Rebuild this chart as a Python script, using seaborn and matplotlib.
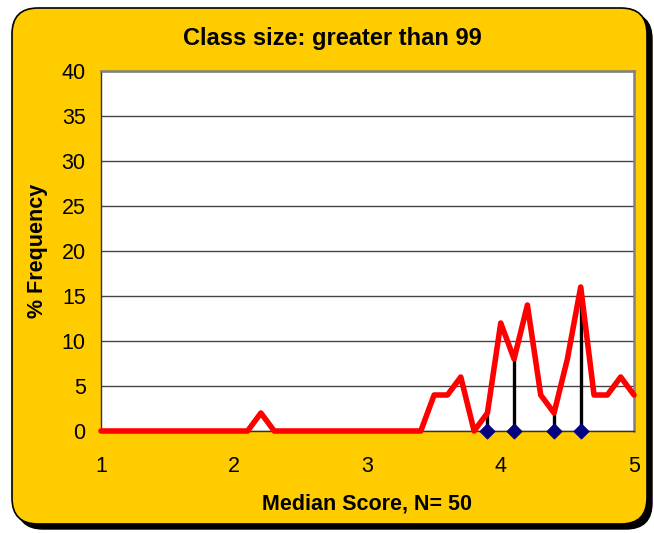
import matplotlib.pyplot as plt
import seaborn as sns
import pandas as pd
from matplotlib.patches import FancyBboxPatch
from matplotlib.transforms import IdentityTransform
from matplotlib.ticker import MultipleLocator

# median score bins (x) and % frequency
scores = [1.0, 1.1, 1.2, 1.3, 1.4, 1.5, 1.6, 1.7, 1.8, 1.9,
          2.0, 2.1, 2.2, 2.3, 2.4, 2.5, 2.6, 2.7, 2.8, 2.9,
          3.0, 3.1, 3.2, 3.3, 3.4, 3.5, 3.6, 3.7, 3.8, 3.9,
          4.0, 4.1, 4.2, 4.3, 4.4, 4.5, 4.6, 4.7, 4.8, 4.9, 5.0]
freq = [0, 0, 0, 0, 0, 0, 0, 0, 0, 0,
        0, 0, 2, 0, 0, 0, 0, 0, 0, 0,
        0, 0, 0, 0, 0, 4, 4, 6, 0, 2,
        12, 8, 14, 4, 2, 8, 16, 4, 4, 6, 4]

# drop lines with diamond markers
marks_x = [3.9, 4.1, 4.4, 4.6]
marks_y = [2, 8, 2, 16]

title = 'Class size: greater than 99'
xlabel = 'Median Score, N= 50'
ylabel = '% Frequency'

sns.set_style('white')
plt.rcParams['font.family'] = ['Liberation Sans', 'DejaVu Sans']
plt.rcParams['text.color'] = 'black'
plt.rcParams['axes.labelcolor'] = 'black'
plt.rcParams['xtick.labelcolor'] = 'black'
plt.rcParams['ytick.labelcolor'] = 'black'

W, H = 654, 533
fig = plt.figure(figsize=(W / 100, H / 100), dpi=100)
fig.patch.set_facecolor('white')

# rounded yellow frame with shadow (pixel coords)
x0, y0, bw, bh = 12, 9, 635, 516
shadow = FancyBboxPatch((x0 + 5, y0 - 5), bw, bh, boxstyle='round,pad=0,rounding_size=26',
                        transform=IdentityTransform(), facecolor='black', edgecolor='black', zorder=-3)
frame = FancyBboxPatch((x0, y0), bw, bh, boxstyle='round,pad=0,rounding_size=26',
                       transform=IdentityTransform(), facecolor='#FFCC00', edgecolor='black',
                       linewidth=1.2, zorder=-2)
fig.add_artist(shadow)
fig.add_artist(frame)

ax = fig.add_axes([101 / W, 102 / H, 533 / W, 360 / H])
ax.set_facecolor('white')

df = pd.DataFrame({'score': scores, 'freq': freq})
marks = pd.DataFrame({'score': marks_x, 'freq': marks_y})

ax.vlines(marks['score'], 0, marks['freq'], colors='black', linewidth=2.4, zorder=3)
sns.lineplot(data=df, x='score', y='freq', color='#FF0000', linewidth=4, ax=ax, zorder=4,
             clip_on=False)
sns.scatterplot(data=marks.assign(freq=0), x='score', y='freq', marker='D', s=60, color='#000080',
                edgecolor='#000080', ax=ax, zorder=5, clip_on=False)

ax.set_xlim(1, 5)
ax.set_ylim(0, 40)
ax.xaxis.set_major_locator(MultipleLocator(1))
ax.xaxis.set_minor_locator(MultipleLocator(0.1))
ax.yaxis.set_major_locator(MultipleLocator(5))
ax.grid(axis='y', color='#444444', linewidth=1)
ax.set_axisbelow(True)

for side in ['top', 'right']:
    ax.spines[side].set_color('#808080')
    ax.spines[side].set_linewidth(1.8)
for side in ['left', 'bottom']:
    ax.spines[side].set_color('#333333')
    ax.spines[side].set_linewidth(1.0)

ax.tick_params(axis='both', which='both', direction='out', color='#333333', width=1)
ax.tick_params(axis='x', which='major', length=5, pad=13, labelsize=15.5)
ax.tick_params(axis='x', which='minor', length=5)
ax.tick_params(axis='y', length=5, pad=6, labelsize=15.5)

ax.set_xlabel(xlabel, fontsize=15.5, fontweight='bold', labelpad=12)
ax.set_ylabel(ylabel, fontsize=15.5, fontweight='bold', labelpad=10)
fig.text(332 / W, 1 - 39 / H, title, ha='center', va='center', fontsize=17, fontweight='bold')

fig.savefig('out.png', dpi=100)
